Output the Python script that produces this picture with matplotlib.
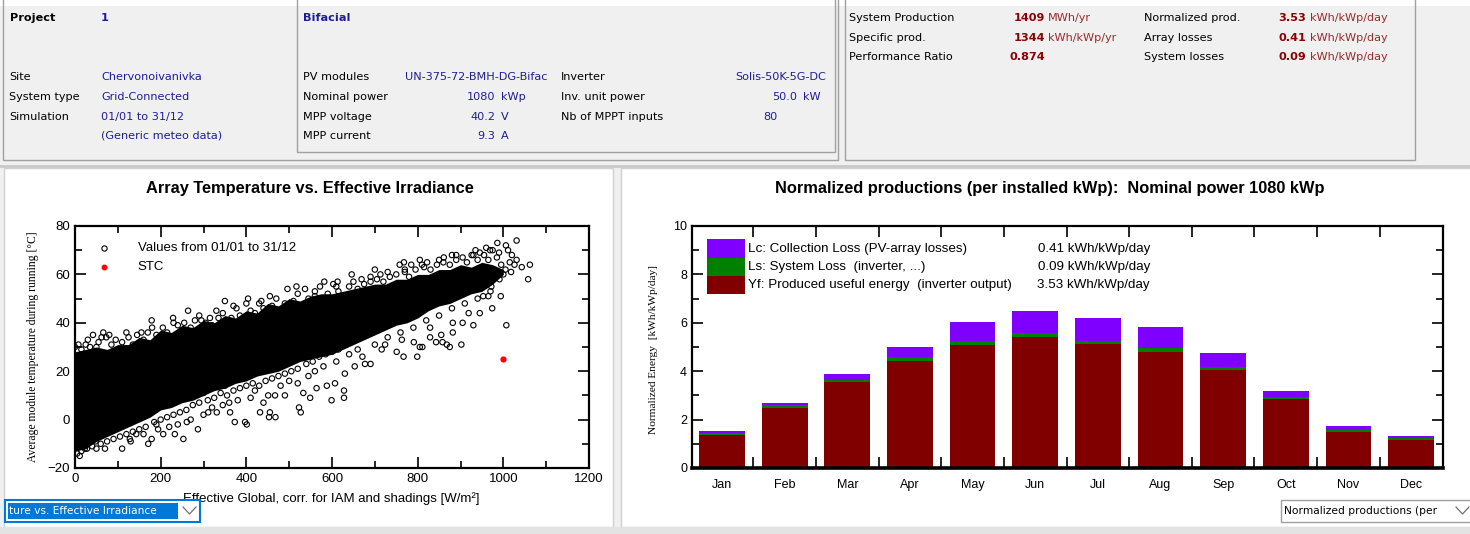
import matplotlib
matplotlib.use('Agg')
import matplotlib.pyplot as plt
from matplotlib.patches import Rectangle
from matplotlib.lines import Line2D
from matplotlib.ticker import MultipleLocator, FixedLocator

#%% Data

months = ['Jan', 'Feb', 'Mar', 'Apr', 'May', 'Jun', 'Jul', 'Aug', 'Sep', 'Oct', 'Nov', 'Dec']
yf = [1.36, 2.46, 3.54, 4.44, 5.10, 5.42, 5.12, 4.81, 4.04, 2.85, 1.50, 1.17]  # produced useful energy
ls_loss = [0.08, 0.14, 0.11, 0.13, 0.13, 0.15, 0.13, 0.16, 0.13, 0.07, 0.05, 0.07]  # system loss
lc_loss = [0.07, 0.08, 0.24, 0.44, 0.79, 0.91, 0.93, 0.85, 0.59, 0.27, 0.18, 0.09]  # collection loss

# dense (solid black) part of the temperature cloud
irr_core = [0, 25, 50, 75, 100, 125, 150, 175, 200, 225, 250, 275, 300, 325, 350, 375, 400, 425, 450, 475,
            500, 525, 550, 575, 600, 625, 650, 675, 700, 725, 750, 775, 800, 825, 850, 875, 900, 925, 950,
            975, 1000]
temp_core_low = [-13, -12, -9, -7, -5, -3, -1, 1, 4, 5, 7, 8, 10, 12, 13, 15, 16, 18, 19, 20,
                 22, 24, 25, 26, 27, 29, 31, 33, 35, 37, 39, 40, 42, 45, 47, 48, 50, 52, 53,
                 56, 60]
temp_core_high = [28, 29, 30, 29, 31, 31, 34, 33, 37, 36, 39, 38, 41, 40, 43, 42, 45, 44, 48, 47,
                  50, 49, 51, 52, 52, 53, 54, 55, 56, 56, 58, 58, 60, 60, 62, 62, 64, 63, 65,
                  64, 62]

# single points around the cloud edges (irradiance, temperature)
cloud_top = [(0, 30), (8, 31), (15, 29), (25, 31), (35, 30), (42, 35), (55, 32), (62, 34), (66, 36),
             (73, 34), (85, 31), (95, 33), (110, 32), (125, 34), (135, 31), (145, 35), (155, 36),
             (160, 33), (170, 36), (179, 41), (190, 35), (205, 38), (215, 36), (229, 42), (240, 39),
             (255, 40), (264, 45), (270, 38), (280, 41), (295, 41), (305, 40), (315, 42), (320, 39),
             (335, 42), (345, 44), (350, 49), (365, 42), (377, 46), (385, 43), (400, 48), (404, 50),
             (410, 45), (420, 44), (435, 49), (440, 46), (455, 51), (460, 47), (475, 45), (490, 48),
             (496, 54), (510, 49), (517, 55), (525, 47), (537, 54), (545, 50), (560, 51), (572, 55),
             (575, 49), (582, 57), (590, 52), (603, 56), (613, 57), (615, 53), (625, 51), (640, 55),
             (646, 60), (660, 54), (669, 58), (675, 56), (690, 57), (700, 62), (705, 58), (713, 60),
             (720, 57), (735, 59), (750, 60), (758, 64), (768, 65), (770, 61), (780, 59), (785, 64),
             (795, 62), (805, 66), (815, 63), (822, 65), (830, 62), (845, 64), (860, 65), (861, 67),
             (875, 64), (880, 68), (890, 66), (905, 67), (915, 65), (926, 68), (930, 68), (940, 66),
             (945, 69), (955, 68), (965, 66), (969, 70), (975, 70), (985, 67), (986, 73), (995, 64),
             (1006, 72), (1011, 70), (1005, 62), (1015, 65), (1018, 61), (1020, 68), (1026, 64),
             (1031, 74), (1031, 66), (1043, 63), (1062, 64), (1058, 58),
             (30, 33), (50, 30), (80, 35), (120, 36), (180, 38), (230, 40), (290, 43), (330, 45),
             (370, 47), (430, 48), (470, 50), (520, 52), (560, 53), (610, 55), (650, 57), (690, 59),
             (730, 61), (770, 62), (810, 64), (850, 66), (890, 68), (935, 70), (960, 71), (990, 69)]
cloud_bottom = [(5, -14), (11, -15), (15, -13), (23, -12), (28, -12), (40, -11), (50, -12), (60, -10),
                (70, -12), (75, -9), (90, -8), (105, -7), (110, -12), (120, -6), (128, -8), (135, -5),
                (143, -6), (150, -4), (165, -3), (171, -10), (179, -8), (185, -1), (194, -4), (200, 0),
                (206, -6), (215, 1), (230, 2), (233, -6), (245, 3), (253, -8), (260, 4), (261, -1),
                (275, 6), (287, -4), (290, 7), (310, 8), (311, 3), (325, 9), (331, 3), (340, 11),
                (355, 10), (362, 3), (370, 12), (373, -1), (385, 13), (397, -1), (400, 14), (401, -2),
                (415, 15), (430, 14), (432, 3), (445, 16), (451, 10), (453, 1), (455, 3), (460, 17),
                (467, 10), (468, 1), (475, 18), (490, 19), (490, 10), (505, 20), (520, 21), (523, 5),
                (527, 3), (533, 11), (540, 23), (549, 9), (555, 24), (564, 13), (570, 26), (585, 27),
                (588, 14), (599, 8), (600, 28), (607, 15), (615, 29), (628, 12), (628, 9), (630, 19),
                (630, 31), (645, 32), (653, 22), (660, 34), (671, 26), (675, 35), (677, 23), (690, 23),
                (690, 36), (705, 37), (716, 29), (720, 38), (724, 31), (740, 40), (751, 28), (760, 42),
                (763, 33), (767, 26), (780, 44), (791, 32), (799, 26), (800, 45), (805, 30), (811, 30),
                (820, 47), (829, 34), (829, 38), (840, 48), (843, 32), (855, 35), (858, 32), (860, 50),
                (868, 31), (875, 30), (880, 51), (882, 36), (882, 40), (900, 53), (902, 31), (905, 40),
                (919, 44), (920, 55), (930, 39), (940, 56), (945, 44), (953, 51), (960, 58), (965, 51),
                (972, 55), (974, 46), (980, 59), (991, 58), (994, 51), (1000, 60), (1007, 39),
                (20, -8), (35, -6), (48, -9), (65, -5), (80, -4), (95, -3), (115, -2), (130, 0), (150, 1),
                (165, 2), (180, 4), (195, 5), (210, 6), (225, 7), (240, 8), (255, 9), (270, 10), (285, 12),
                (300, 11), (320, 13), (335, 15), (350, 14), (365, 16), (380, 17), (395, 18), (130, -9),
                (160, -6), (190, -2), (220, -3), (240, -2), (270, 0), (300, 2), (320, 5), (345, 6),
                (360, 7), (380, 8), (410, 9), (420, 12), (440, 7), (480, 14), (500, 16), (520, 15),
                (545, 18), (560, 20), (580, 22), (610, 24), (640, 27), (660, 29), (700, 31), (730, 34),
                (760, 36), (790, 38), (820, 41), (850, 43), (880, 46), (910, 48), (940, 50), (970, 53)]
stc_irr = [1000]
stc_temp = [25]

#%% Figure helpers (pixel coordinates of the 1470x534 screenshot)

W, H = 1470, 534
fig = plt.figure(figsize=(W / 100, H / 100), dpi=100, facecolor='#f0f0f0')

def box(l, t, r, b):
    return [l / W, 1 - b / H, (r - l) / W, (b - t) / H]

def rect(l, t, r, b, **kw):
    kw.setdefault('zorder', -1)
    fig.patches.append(Rectangle((l / W, 1 - b / H), (r - l) / W, (b - t) / H,
                                 transform=fig.transFigure, **kw))

def txt(x, y, s, **kw):
    kw.setdefault('family', 'DejaVu Sans')
    kw.setdefault('fontsize', 8.1)
    fig.text(x / W, 1 - y / H, s, va='center', **kw)

def line(xs, ys, **kw):
    fig.add_artist(Line2D([x / W for x in xs], [1 - y / H for y in ys], transform=fig.transFigure, **kw))

NAVY = '#1e1e96'
RED = '#8b0000'
RED_UNIT = '#9a2b2b'
GREY = '#a0a0a0'

#%% Top info panels

rect(0, 0, W, 6, facecolor='white', edgecolor='none')
rect(3, -5, 838, 160, facecolor='none', edgecolor=GREY, lw=1)
rect(297, -5, 835, 152, facecolor='none', edgecolor=GREY, lw=1)
rect(845, -5, 1415, 160, facecolor='none', edgecolor=GREY, lw=1)

txt(10, 18, 'Project', fontweight='bold')
txt(101, 18, '1', fontweight='bold', color=NAVY)
for y, lab, val in [(77, 'Site', 'Chervonoivanivka'), (97, 'System type', 'Grid-Connected'),
                    (117, 'Simulation', '01/01 to 31/12'), (136, '', '(Generic meteo data)')]:
    txt(9, y, lab)
    txt(101, y, val, color=NAVY)

txt(303, 18, 'Bifacial', fontweight='bold', color=NAVY)
txt(303, 77, 'PV modules')
txt(405, 77, 'UN-375-72-BMH-DG-Bifac', color=NAVY)
for y, lab, num, unit in [(97, 'Nominal power', '1080', 'kWp'), (117, 'MPP voltage', '40.2', 'V'),
                          (136, 'MPP current', '9.3', 'A')]:
    txt(303, y, lab)
    txt(495, y, num, color=NAVY, ha='right')
    txt(501, y, unit, color=NAVY)
txt(561, 77, 'Inverter')
txt(826, 77, 'Solis-50K-5G-DC', color=NAVY, ha='right')
txt(561, 97, 'Inv. unit power')
txt(797, 97, '50.0', color=NAVY, ha='right')
txt(803, 97, 'kW', color=NAVY)
txt(561, 117, 'Nb of MPPT inputs')
txt(777, 117, '80', color=NAVY, ha='right')

for y, lab, num, unit in [(18, 'System Production', '1409', 'MWh/yr'), (38, 'Specific prod.', '1344', 'kWh/kWp/yr'),
                          (57, 'Performance Ratio', '0.874', '')]:
    txt(849, y, lab)
    txt(1045, y, num, color=RED, fontweight='bold', ha='right')
    txt(1048, y, unit, color=RED_UNIT)
for y, lab, num in [(18, 'Normalized prod.', '3.53'), (38, 'Array losses', '0.41'), (57, 'System losses', '0.09')]:
    txt(1144, y, lab)
    txt(1306, y, num, color=RED, fontweight='bold', ha='right')
    txt(1310, y, 'kWh/kWp/day', color=RED_UNIT)

#%% Chart panels background

line([0, W], [166, 166], color='#c8c8c8', lw=2, zorder=-1)
rect(4, 168, 613, 527, facecolor='white', edgecolor='#d0d0d0', lw=1)
rect(621, 168, W + 2, 527, facecolor='white', edgecolor='#d0d0d0', lw=1)
rect(0, 527, W, H, facecolor='#e3e3e3', edgecolor='none')

#%% Left chart: array temperature vs effective irradiance

ax1 = fig.add_axes(box(75, 226, 589, 468))
ax1.fill_between(irr_core, temp_core_low, temp_core_high, color='black', lw=0)
pts = cloud_top + cloud_bottom
ax1.scatter([p[0] for p in pts], [p[1] for p in pts], s=15, facecolors='none',
            edgecolors='black', linewidths=0.8, zorder=3)
ax1.scatter(stc_irr, stc_temp, s=12, color='red', zorder=4)
ax1.set_xlim(0, 1200)
ax1.set_ylim(-20, 80)
ax1.xaxis.set_major_locator(MultipleLocator(200))
ax1.xaxis.set_minor_locator(MultipleLocator(100))
ax1.yaxis.set_major_locator(MultipleLocator(20))
ax1.yaxis.set_minor_locator(MultipleLocator(10))
ax1.tick_params(which='both', direction='in', top=True, right=True, labelsize=9.5, width=1.2)
ax1.tick_params(which='major', length=8)
ax1.tick_params(which='minor', length=5)
for lab in ax1.get_xticklabels() + ax1.get_yticklabels():
    lab.set_family('Liberation Sans')
for sp in ax1.spines.values():
    sp.set_linewidth(1.6)

# legend
ax1.plot([0.056], [0.909], transform=ax1.transAxes, marker='o', ms=3.8, mfc='none', mec='black', mew=0.8)
ax1.plot([0.056], [0.831], transform=ax1.transAxes, marker='o', ms=3.2, color='red')
ax1.text(0.122, 0.909, 'Values from 01/01 to 31/12', transform=ax1.transAxes, va='center',
         family='Liberation Sans', fontsize=9.5)
ax1.text(0.122, 0.831, 'STC', transform=ax1.transAxes, va='center', family='Liberation Sans', fontsize=9.5)

txt(310, 189, 'Array Temperature vs. Effective Irradiance', ha='center', family='Liberation Sans',
    fontsize=11.8, fontweight='bold')
txt(33, 347, 'Average module temperature during running [°C]', ha='center', rotation=90,
    family='Liberation Serif', fontsize=8.4)
txt(331, 499, 'Effective Global, corr. for IAM and shadings [W/m²]', ha='center', family='Liberation Sans',
    fontsize=9.5)

#%% Right chart: normalized productions

ax2 = fig.add_axes(box(692, 226, 1443, 468))
x = list(range(len(months)))
bot_ls = yf
bot_lc = [a + b for a, b in zip(yf, ls_loss)]
ax2.bar(x, yf, width=0.73, color='#800000', lw=0)
ax2.bar(x, ls_loss, width=0.73, bottom=bot_ls, color='#008000', lw=0)
ax2.bar(x, lc_loss, width=0.73, bottom=bot_lc, color='#8000ff', lw=0)
ax2.set_xlim(-0.48, 11.51)
ax2.set_ylim(0, 10)
ax2.xaxis.set_major_locator(FixedLocator(x))
ax2.set_xticklabels(months)
ax2.xaxis.set_minor_locator(FixedLocator([i + 0.5 for i in range(11)]))
ax2.yaxis.set_major_locator(MultipleLocator(2))
ax2.yaxis.set_minor_locator(MultipleLocator(1))
ax2.tick_params(which='both', direction='in', top=True, right=True, labelsize=9, width=1.2)
ax2.tick_params(axis='y', which='major', length=8)
ax2.tick_params(axis='y', which='minor', length=5)
ax2.tick_params(axis='x', which='major', length=0, pad=8)
ax2.tick_params(axis='x', which='minor', length=8)
for lab in ax2.get_xticklabels() + ax2.get_yticklabels():
    lab.set_family('Liberation Sans')
for sp in ax2.spines.values():
    sp.set_linewidth(1.6)
ax2.spines['bottom'].set_linewidth(2.6)

# legend
legend_rows = [('#8000ff', 'Lc: Collection Loss (PV-array losses)', '0.41 kWh/kWp/day'),
               ('#008000', 'Ls: System Loss  (inverter, ...)', '0.09 kWh/kWp/day'),
               ('#800000', 'Yf: Produced useful energy  (inverter output)', '3.53 kWh/kWp/day')]
sw_top = [0.946, 0.868, 0.793]
sw_bot = [0.868, 0.793, 0.719]
for (col, lab, val), t, b in zip(legend_rows, sw_top, sw_bot):
    ax2.add_patch(Rectangle((0.02, b), 0.0506, t - b, transform=ax2.transAxes, facecolor=col, lw=0))
    ax2.text(0.075, (t + b) / 2, lab, transform=ax2.transAxes, va='center', family='Liberation Sans', fontsize=9.6)
    ax2.text(0.61, (t + b) / 2, val, transform=ax2.transAxes, va='center', ha='right',
             family='Liberation Sans', fontsize=9.6)

txt(1050, 189, 'Normalized productions (per installed kWp):  Nominal power 1080 kWp', ha='center',
    family='Liberation Sans', fontsize=11.8, fontweight='bold')
txt(653, 350, 'Normalized Energy  [kWh/kWp/day]', ha='center', rotation=90,
    family='Liberation Serif', fontsize=8.2)

#%% Drop-down boxes under the charts

rect(5, 500, 200, 522, facecolor='white', edgecolor='#0078d7', lw=1.5, zorder=5)
rect(8, 503, 178, 519, facecolor='#0078d7', edgecolor='none', zorder=6)
txt(9, 511, 'ture vs. Effective Irradiance', color='white', fontsize=7.7, zorder=7)
line([183, 189.5, 196], [507, 514, 507], color='#707070', lw=0.9, zorder=7)

rect(1281, 500, W + 2, 522, facecolor='white', edgecolor=GREY, lw=1, zorder=5)
txt(1284, 511, 'Normalized productions (per', color='black', fontsize=7.7, zorder=7)
line([1456, 1462.5, 1469], [507, 514, 507], color='#707070', lw=0.9, zorder=7)

plt.savefig('out.png', dpi=100, facecolor=fig.get_facecolor())
plt.close()
